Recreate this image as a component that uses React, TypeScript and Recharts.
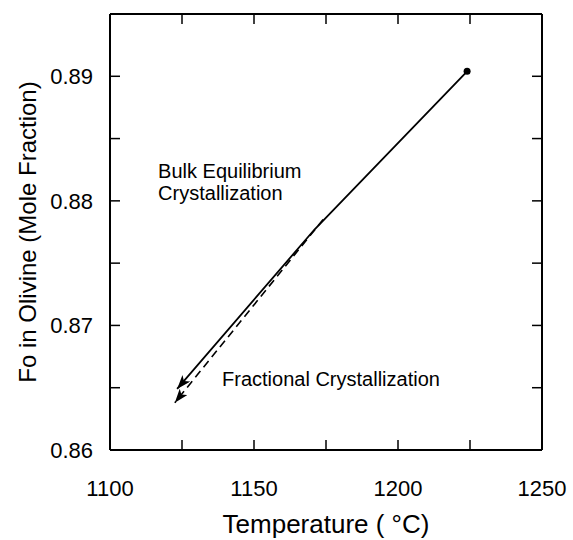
import React from 'react';
import { LineChart, Line, XAxis, YAxis, ReferenceDot } from 'recharts';

const solidTemp = [1224, 1171, 1123.3];
const solidFo = [0.8904, 0.8777, 0.8649];
const dashedTemp = [1174, 1122.5];
const dashedFo = [0.8785, 0.8638];

const xTicks = [1100, 1125, 1150, 1175, 1200, 1225, 1250];
const xTickLabels = ['1100', '', '1150', '', '1200', '', '1250'];
const yTicks = [0.86, 0.865, 0.87, 0.875, 0.88, 0.885, 0.89];
const yTickLabels = ['0.86', '', '0.87', '', '0.88', '', '0.89'];
const xDomain = [1100, 1250];
const yDomain = [0.86, 0.895];

const annotTemp = [1116.7, 1138.9];
const annotFo = [0.8818, 0.8651];
const annotLines = [['Bulk Equilibrium', 'Crystallization'], ['Fractional Crystallization']];

const xTitle = 'Temperature ( °C)';
const yTitle = 'Fo in Olivine (Mole Fraction)';

const solidData = solidTemp.map((t, i) => ({ t, fo: solidFo[i] }));
const dashedData = dashedTemp.map((t, i) => ({ t, fo: dashedFo[i] }));

const FONT = '"Liberation Sans", Arial, Helvetica, sans-serif';

const YTitle = (props: any) => {
  const vb = props.viewBox || {};
  const cx = vb.x + 27;
  const cy = vb.y + vb.height / 2;
  return (
    <text
      x={cx}
      y={cy}
      transform={`rotate(-90, ${cx}, ${cy})`}
      textAnchor="middle"
      dominantBaseline="central"
      fontSize={24}
      fontFamily={FONT}
      fill="#000"
    >
      {yTitle}
    </text>
  );
};

const makeAnnot = (lines: string[]) => (p: any) => (
  <text x={p.cx} y={p.cy} fontSize={20} fontFamily={FONT} fill="#000">
    {lines.map((l, i) => (
      <tspan key={i} x={p.cx} dy={i === 0 ? 0 : 22}>
        {l}
      </tspan>
    ))}
  </text>
);

const endDot = (p: any) =>
  p.index === 0 ? (
    <circle key={`d${p.index}`} cx={p.cx} cy={p.cy} r={3.5} fill="#000" />
  ) : (
    <g key={`d${p.index}`} />
  );

export default function App() {
  const tickStyle = { fontSize: 22, fontFamily: FONT, fill: '#000' };
  return (
    <div style={{ position: 'absolute', left: 0, top: 0 }}>
      <svg width={0} height={0} style={{ position: 'absolute' }}>
        <defs>
          <marker
            id="arrowHead"
            markerUnits="userSpaceOnUse"
            markerWidth={16}
            markerHeight={12}
            refX={14}
            refY={5}
            orient="auto"
          >
            <path d="M0,0 L14,5 L0,10 L3.5,5 Z" fill="#000" />
          </marker>
        </defs>
      </svg>
      <LineChart
        width={573}
        height={540}
        margin={{ top: 13, right: 30, left: 0, bottom: 0 }}
      >
        <XAxis
          type="number"
          dataKey="t"
          domain={xDomain}
          ticks={xTicks}
          allowDataOverflow
          height={90}
          tickSize={-10}
          tickMargin={40}
          tickFormatter={(v: any, i: number) => xTickLabels[i] ?? ''}
          tick={tickStyle}
          axisLine={{ stroke: '#000', strokeWidth: 2 }}
          tickLine={{ stroke: '#000', strokeWidth: 1.5 }}
          label={{
            value: xTitle,
            position: 'insideBottom',
            offset: 7,
            fontSize: 26,
            fontFamily: FONT,
            fill: '#000',
          }}
        />
        <XAxis
          xAxisId="top"
          orientation="top"
          type="number"
          dataKey="t"
          domain={xDomain}
          ticks={xTicks}
          allowDataOverflow
          height={1}
          tickSize={-10}
          tickFormatter={() => ''}
          axisLine={{ stroke: '#000', strokeWidth: 2 }}
          tickLine={{ stroke: '#000', strokeWidth: 1.5 }}
        />
        <YAxis
          type="number"
          dataKey="fo"
          domain={yDomain}
          ticks={yTicks}
          allowDataOverflow
          width={110}
          tickSize={-10}
          tickMargin={27}
          tickFormatter={(v: any, i: number) => yTickLabels[i] ?? ''}
          tick={tickStyle}
          axisLine={{ stroke: '#000', strokeWidth: 2 }}
          tickLine={{ stroke: '#000', strokeWidth: 1.5 }}
          label={{ content: YTitle }}
        />
        <YAxis
          yAxisId="right"
          orientation="right"
          type="number"
          dataKey="fo"
          domain={yDomain}
          ticks={yTicks}
          allowDataOverflow
          width={1}
          tickSize={-10}
          tickFormatter={() => ''}
          axisLine={{ stroke: '#000', strokeWidth: 2 }}
          tickLine={{ stroke: '#000', strokeWidth: 1.5 }}
        />
        <Line
          data={solidData}
          dataKey="fo"
          xAxisId="top"
          yAxisId="right"
          type="linear"
          stroke="none"
          dot={false}
          activeDot={false}
          legendType="none"
          isAnimationActive={false}
        />
        <Line
          data={solidData}
          dataKey="fo"
          type="linear"
          stroke="#000"
          strokeWidth={1.8}
          dot={endDot}
          activeDot={false}
          markerEnd="url(#arrowHead)"
          isAnimationActive={false}
        />
        <Line
          data={dashedData}
          dataKey="fo"
          type="linear"
          stroke="#000"
          strokeWidth={1.6}
          strokeDasharray="8 5"
          dot={false}
          activeDot={false}
          markerEnd="url(#arrowHead)"
          isAnimationActive={false}
        />
        {annotTemp.map((t, i) => (
          <ReferenceDot
            key={i}
            x={t}
            y={annotFo[i]}
            r={0}
            shape={makeAnnot(annotLines[i])}
          />
        ))}
      </LineChart>
    </div>
  );
}
